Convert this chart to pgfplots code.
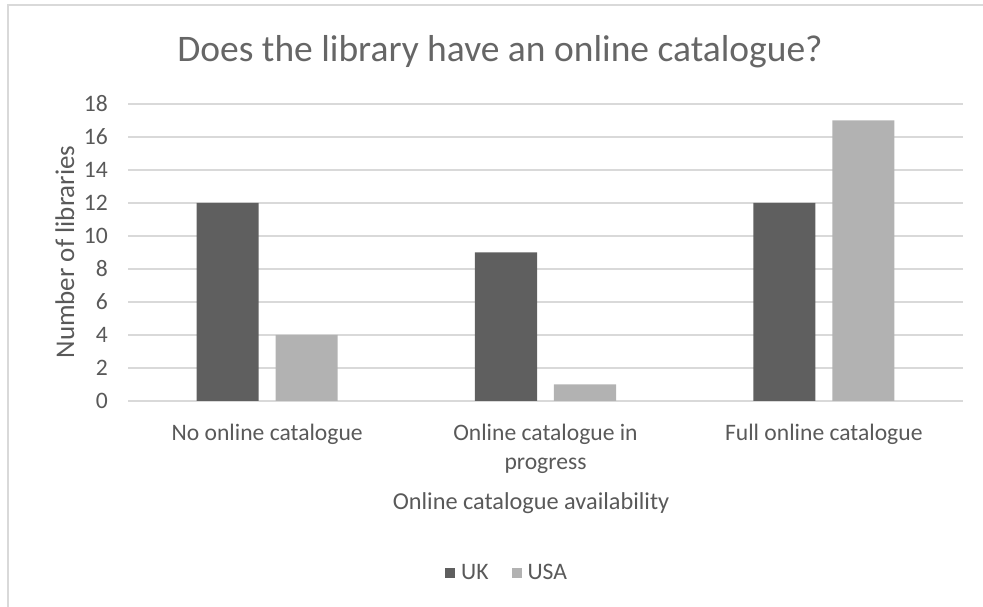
\documentclass[border=0pt]{standalone}
\usepackage{fontspec}
\setmainfont{Carlito}
\usepackage{pgfplots}
\pgfplotsset{compat=1.18}
\definecolor{txt}{HTML}{595959}
\definecolor{gridc}{HTML}{D9D9D9}
\definecolor{uk}{HTML}{5F5F5F}
\definecolor{usa}{HTML}{B2B2B2}
\newcommand{\fs}{\fontsize{23.6bp}{29bp}\selectfont}
\begin{document}
\begin{tikzpicture}[x=1bp,y=1bp]
\path[use as bounding box] (0,0) rectangle (983,607);
\draw[gridc, line width=2bp] (8,0) -- (8,602) -- (983,602);
\begin{axis}[
  at={(128bp,206bp)}, anchor=south west,
  scale only axis, width=835bp, height=297bp,
  xmin=-0.5, xmax=2.5, ymin=0, ymax=18,
  ytick={0,2,...,18},
  xtick={0,1,2},
  xticklabels={No online catalogue, Online catalogue in\\progress, Full online catalogue},
  ymajorgrids, grid style={gridc, line width=1.3bp},
  axis line style={draw=none},
  tick style={draw=none},
  /pgf/number format/assume math mode=true,
  yticklabel style={font=\fs, text=txt, anchor=east, inner sep=0pt, xshift=-20bp},
  xticklabel style={font=\fs, text=txt, align=center, anchor=north, inner sep=0pt, yshift=-23bp},
  legend style={at={(rel axis cs:0.454,-0.579)}, anchor=center, draw=none, fill=none,
    legend columns=2, font=\fs, text=txt,
    /tikz/every odd column/.append style={column sep=4bp},
    /tikz/every even column/.append style={column sep=21bp}},
  legend cell align=left,
]
\addplot[ybar, bar width=0.223, bar shift=-0.142, fill=uk, draw=none,
  legend image code/.code={\fill[uk] (-5bp,-5bp) rectangle (5bp,5bp);}]
  coordinates {(0,12) (1,9) (2,12)};
\addplot[ybar, bar width=0.223, bar shift=0.142, fill=usa, draw=none,
  legend image code/.code={\fill[usa] (-5bp,-5bp) rectangle (5bp,5bp);}]
  coordinates {(0,4) (1,1) (2,17)};
\legend{UK, USA}
\end{axis}
\node[font=\fontsize{37.5bp}{44bp}\selectfont, text=txt!92, anchor=base] at (500,545) {Does the library have an online catalogue?};
\node[font=\fontsize{27bp}{32bp}\selectfont, text=txt, anchor=base, rotate=90] at (74,355) {Number of libraries};
\node[font=\fontsize{24.3bp}{29bp}\selectfont, text=txt, anchor=base] at (531,97) {Online catalogue availability};
\end{tikzpicture}
\end{document}
